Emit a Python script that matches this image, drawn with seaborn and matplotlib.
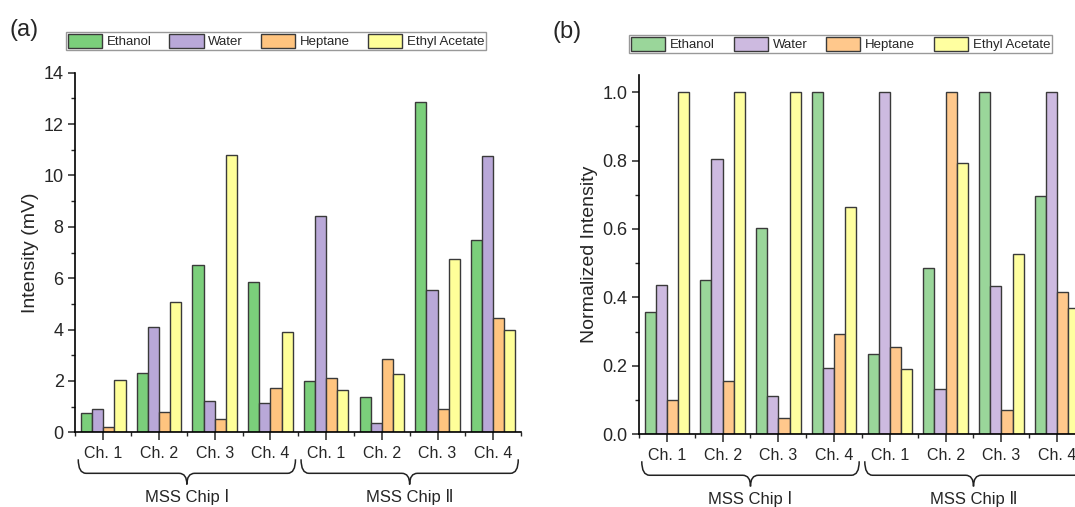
import numpy as np
import pandas as pd
import matplotlib
matplotlib.use("Agg")
import matplotlib.pyplot as plt
from matplotlib.path import Path
from matplotlib.patches import PathPatch
import matplotlib.transforms as mtransforms
import seaborn as sns

# solvents and channel layout
solvents = ['Ethanol', 'Water', 'Heptane', 'Ethyl Acetate']
channels = ['Ch. 1', 'Ch. 2', 'Ch. 3', 'Ch. 4', 'Ch. 1', 'Ch. 2', 'Ch. 3', 'Ch. 4']
slots = ['I-1', 'I-2', 'I-3', 'I-4', 'II-1', 'II-2', 'II-3', 'II-4']
chips = ['MSS Chip Ⅰ', 'MSS Chip Ⅱ']

# (a) raw intensity, mV
ethanol_mv = [0.74, 2.30, 6.51, 5.86, 1.98, 1.39, 12.85, 7.48]
water_mv = [0.90, 4.10, 1.23, 1.14, 8.41, 0.38, 5.55, 10.75]
heptane_mv = [0.22, 0.80, 0.52, 1.73, 2.13, 2.87, 0.92, 4.46]
ethyl_acetate_mv = [2.04, 5.08, 10.78, 3.91, 1.63, 2.28, 6.75, 3.97]

# (b) normalized intensity
ethanol_norm = [0.357, 0.452, 0.603, 1.0, 0.234, 0.487, 1.0, 0.697]
water_norm = [0.436, 0.805, 0.113, 0.194, 1.0, 0.133, 0.432, 1.0]
heptane_norm = [0.100, 0.157, 0.047, 0.292, 0.254, 1.0, 0.071, 0.416]
ethyl_acetate_norm = [1.0, 1.0, 1.0, 0.665, 0.192, 0.793, 0.527, 0.370]

colors_a = ['#7BCF7B', '#B9A8D8', '#FFC47F', '#FFFF99']
colors_b = ['#9AD69A', '#CDBAE0', '#FFC88C', '#FFFFA0']


def long_frame(series):
    rows = []
    for name, vals in zip(solvents, series):
        for slot, v in zip(slots, vals):
            rows.append({'slot': slot, 'solvent': name, 'value': v})
    return pd.DataFrame(rows)


def brace(ax, x0, x1, ytop=-0.075, ymid=-0.114, ytip=-0.145, r=0.14):
    trans = mtransforms.blended_transform_factory(ax.transData, ax.transAxes)
    xm = (x0 + x1) / 2
    verts = [(x0, ytop), (x0, ymid), (x0 + r, ymid),
             (xm - r, ymid),
             (xm, ymid), (xm, ytip),
             (xm, ymid), (xm + r, ymid),
             (x1 - r, ymid),
             (x1, ymid), (x1, ytop)]
    codes = [Path.MOVETO, Path.CURVE3, Path.CURVE3,
             Path.LINETO,
             Path.CURVE3, Path.CURVE3,
             Path.CURVE3, Path.CURVE3,
             Path.LINETO,
             Path.CURVE3, Path.CURVE3]
    ax.add_patch(PathPatch(Path(verts, codes), transform=trans, fill=False,
                           lw=1.1, color='#222222', clip_on=False))


def draw_panel(ax, df, palette, ylabel, ylim, major, minor, fmt, legend_box):
    sns.barplot(data=df, x='slot', y='value', hue='solvent', order=slots,
                hue_order=solvents, palette=palette, saturation=1,
                edgecolor='#3a3a3a', linewidth=1.0, errorbar=None, ax=ax)
    handles, labels = ax.get_legend_handles_labels()
    ax.legend(handles, labels, ncol=4, loc='lower left', mode='expand',
              bbox_to_anchor=legend_box, bbox_transform=ax.figure.transFigure,
              frameon=True, fancybox=False, edgecolor='#999999', framealpha=1,
              fontsize=9.5, handlelength=2.6, handleheight=1.25, handletextpad=0.35,
              borderpad=0.12, borderaxespad=0, columnspacing=0.8)

    ax.set_xlim(-0.5, 7.5)
    ax.set_ylim(*ylim)
    ax.set_xticks(range(len(slots)))
    ax.set_xticklabels(channels, fontsize=11.5)
    ax.set_xticks(np.arange(-0.5, len(slots), 1), minor=True)
    ax.set_yticks(major)
    ax.set_yticks(minor, minor=True)
    ax.yaxis.set_major_formatter(plt.FormatStrFormatter(fmt))
    ax.tick_params(axis='y', which='major', labelsize=13, length=5, width=1.1, direction='out')
    ax.tick_params(axis='y', which='minor', length=3, width=1.0, direction='out')
    ax.tick_params(axis='x', which='major', length=6, width=1.1, direction='out', pad=4)
    ax.tick_params(axis='x', which='minor', length=3, width=1.0, direction='out')
    ax.set_xlabel('')
    ax.set_ylabel(ylabel, fontsize=14, labelpad=3)
    for side in ['top', 'right']:
        ax.spines[side].set_visible(False)
    for side in ['left', 'bottom']:
        ax.spines[side].set_linewidth(1.2)
        ax.spines[side].set_color('black')

    brace(ax, -0.45, 3.45)
    brace(ax, 3.55, 7.45)
    trans = mtransforms.blended_transform_factory(ax.transData, ax.transAxes)
    for i, chip in enumerate(chips):
        ax.text(1.5 + 4 * i, -0.18, chip, transform=trans, ha='center', va='center',
                fontsize=12, family=['Liberation Sans', 'DejaVu Sans', 'Noto Sans CJK JP'])


sns.set_style('ticks')
plt.rcParams['font.family'] = ['Liberation Sans', 'DejaVu Sans', 'Noto Sans CJK JP']

fig = plt.figure(figsize=(10.75, 5.07), dpi=100)
ax_a = fig.add_axes([0.0702, 0.1473, 0.4145, 0.7093])
ax_b = fig.add_axes([0.5944, 0.1434, 0.4149, 0.7087])

df_a = long_frame([ethanol_mv, water_mv, heptane_mv, ethyl_acetate_mv])
df_b = long_frame([ethanol_norm, water_norm, heptane_norm, ethyl_acetate_norm])

draw_panel(ax_a, df_a, colors_a, 'Intensity (mV)', (0, 14),
           np.arange(0, 15, 2), np.arange(1, 14, 2), '%d',
           (0.0614, 0.9014, 0.3907, 0.0375))
draw_panel(ax_b, df_b, colors_b, 'Normalized Intensity', (0, 1.05),
           np.arange(0, 1.01, 0.2), np.arange(0.1, 1.0, 0.2), '%.1f',
           (0.5854, 0.896, 0.393, 0.0389))

fig.text(0.009, 0.94, '(a)', fontsize=17, va='center')
fig.text(0.514, 0.937, '(b)', fontsize=17, va='center')

fig.savefig('out.png', dpi=100)
